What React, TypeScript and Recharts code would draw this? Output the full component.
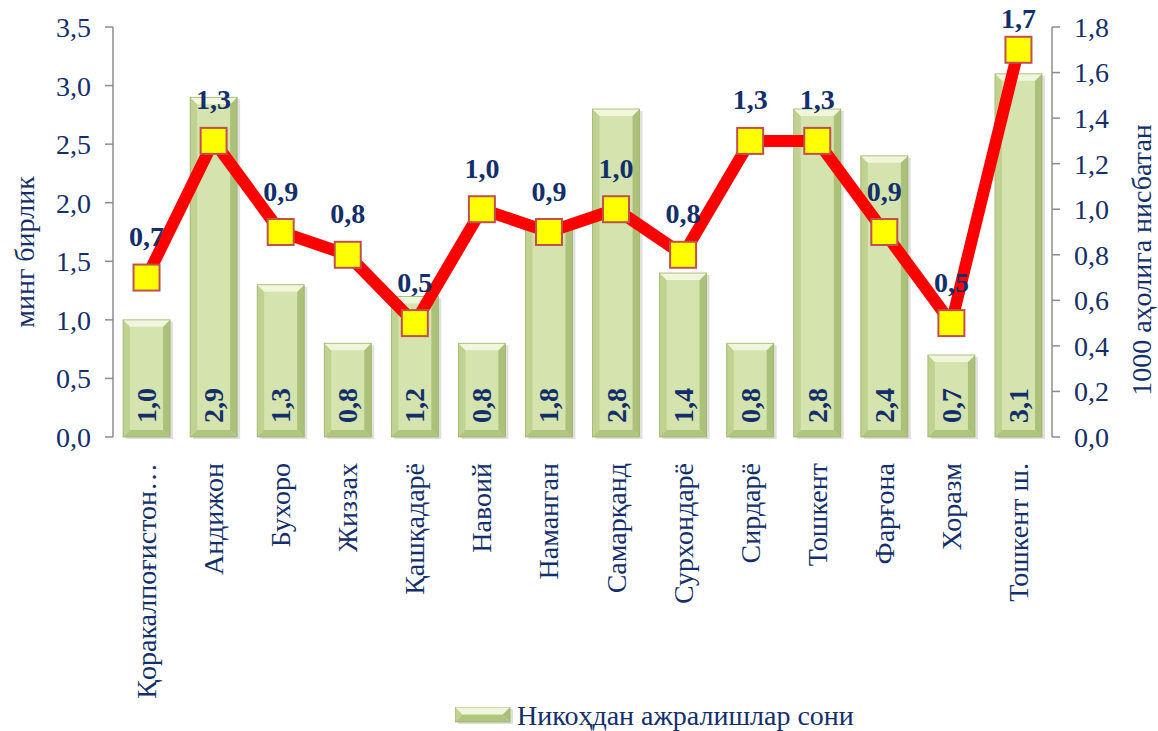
import React from 'react';
import { ComposedChart, Bar, Line, XAxis, YAxis, Legend, LabelList } from 'recharts';

const categories = [
  'Қоракалпоғистон…', 'Андижон', 'Бухоро', 'Жиззах', 'Қашқадарё', 'Навоий', 'Наманган',
  'Самарқанд', 'Сурхондарё', 'Сирдарё', 'Тошкент', 'Фарғона', 'Хоразм', 'Тошкент ш.',
];
const divorceCounts = [1.0, 2.9, 1.3, 0.8, 1.2, 0.8, 1.8, 2.8, 1.4, 0.8, 2.8, 2.4, 0.7, 3.1];
const perThousand = [0.7, 1.3, 0.9, 0.8, 0.5, 1.0, 0.9, 1.0, 0.8, 1.3, 1.3, 0.9, 0.5, 1.7];
const leftTicks = [0, 0.5, 1.0, 1.5, 2.0, 2.5, 3.0, 3.5];
const rightTicks = [0, 0.2, 0.4, 0.6, 0.8, 1.0, 1.2, 1.4, 1.6, 1.8];
const boundaryTicks = categories.map((_, i) => i).concat([categories.length]);

const seriesName = 'Никоҳдан ажралишлар сони';
const leftTitle = 'минг бирлик';
const rightTitle = '1000 аҳолига нисбатан';

const data = categories.map((name, i) => ({ name, count: divorceCounts[i], ratio: perThousand[i] }));

const FONT = '"Liberation Serif", "Times New Roman", serif';
const NAVY = '#132F6B';
const AXIS = '#8C8C8C';

const fmt = (v: number) => v.toFixed(1).replace('.', ',');

function Bevel({ x, y, width, height }: { x: number; y: number; width: number; height: number }) {
  if (!height || height <= 0) return null;
  const b = Math.min(7, height / 2, width / 2);
  return (
    <g>
      <rect x={x + 3} y={y + 2} width={width} height={height} fill="#000" opacity={0.12} />
      <rect x={x} y={y} width={width} height={height} fill="#D5E4AE" />
      <polygon points={`${x},${y} ${x + b},${y + b} ${x + b},${y + height - b} ${x},${y + height}`} fill="#BFD290" />
      <polygon points={`${x + width},${y} ${x + width - b},${y + b} ${x + width - b},${y + height - b} ${x + width},${y + height}`} fill="#ABC078" />
      <polygon points={`${x},${y} ${x + width},${y} ${x + width - b},${y + b} ${x + b},${y + b}`} fill="#EFF6DB" />
      <polygon points={`${x},${y + height} ${x + width},${y + height} ${x + width - b},${y + height - b} ${x + b},${y + height - b}`} fill="#B0C57E" />
      <rect x={x} y={y} width={width} height={height} fill="none" stroke="#9DB26A" strokeWidth={0.8} />
    </g>
  );
}

const BarShape = (props: any) => <Bevel x={props.x} y={props.y} width={props.width} height={props.height} />;

const BarValueLabel = (props: any) => {
  const { x, y, width, height, value } = props;
  const cx = x + width / 2;
  const by = y + height - 14;
  return (
    <text
      x={cx}
      y={by}
      transform={`rotate(-90 ${cx} ${by})`}
      textAnchor="start"
      dominantBaseline="central"
      fontFamily={FONT}
      fontWeight="bold"
      fontSize={28}
      fill={NAVY}
    >
      {fmt(value)}
    </text>
  );
};

const LineValueLabel = (props: any) => {
  const { x, y, value } = props;
  const ly = Math.max(y - 41, 18);
  return (
    <text x={x} y={ly} textAnchor="middle" dominantBaseline="central" fontFamily={FONT} fontWeight="bold" fontSize={28} fill={NAVY}>
      {fmt(value)}
    </text>
  );
};

const SquareDot = (props: any) => {
  const { cx, cy } = props;
  if (cx == null || cy == null) return null;
  const s = 26;
  return <rect x={cx - s / 2} y={cy - s / 2} width={s} height={s} fill="#FFFF00" stroke="#C0504D" strokeWidth={2} />;
};

const CategoryTick = (props: any) => {
  const { x, y, payload } = props;
  const ty = y + 18;
  return (
    <text
      x={x}
      y={ty}
      transform={`rotate(-90 ${x} ${ty})`}
      textAnchor="end"
      dominantBaseline="central"
      fontFamily={FONT}
      fontSize={28}
      fill={NAVY}
    >
      {payload.value}
    </text>
  );
};

const EmptyTick = () => <g />;

const LegendContent = () => (
  <div style={{ display: 'flex', alignItems: 'center', height: 30, paddingLeft: 455, fontFamily: FONT, fontSize: 28, color: NAVY }}>
    <svg width={58} height={18} style={{ marginRight: 4 }}>
      <Bevel x={0} y={0} width={55} height={15} />
    </svg>
    <span>{seriesName}</span>
  </div>
);

export default function App() {
  return (
    <div style={{ position: 'absolute', left: 0, top: 0, width: 1158, height: 731, background: '#fff' }}>
      <ComposedChart width={1158} height={731} data={data} margin={{ top: 27, right: 0, bottom: 0, left: 0 }} barCategoryGap="15%">
        <XAxis
          xAxisId="bounds"
          type="number"
          dataKey="count"
          domain={[0, categories.length]}
          ticks={boundaryTicks}
          allowDataOverflow
          height={0}
          tickSize={6}
          tick={EmptyTick}
          stroke={AXIS}
          axisLine={{ stroke: AXIS, strokeWidth: 1.5 }}
          tickLine={{ stroke: AXIS, strokeWidth: 1.5 }}
        />
        <XAxis
          dataKey="name"
          xAxisId={0}
          height={264}
          interval={0}
          axisLine={false}
          tickLine={false}
          tick={CategoryTick}
        />
        <YAxis
          yAxisId="left"
          orientation="left"
          width={113}
          domain={[0, 3.5]}
          ticks={leftTicks}
          interval={0}
          tickFormatter={fmt}
          tickSize={8}
          tickMargin={14}
          axisLine={{ stroke: AXIS, strokeWidth: 1.5 }}
          tickLine={{ stroke: AXIS, strokeWidth: 1.5 }}
          tick={{ fontFamily: FONT, fontSize: 28, fill: NAVY }}
          label={(p: any) => {
            const vb = p.viewBox;
            const lx = 24;
            const ly = vb.y + vb.height / 2 + 20;
            return (
              <text x={lx} y={ly} transform={`rotate(-90 ${lx} ${ly})`} textAnchor="middle" dominantBaseline="central" fontFamily={FONT} fontSize={28} fill={NAVY}>
                {leftTitle}
              </text>
            );
          }}
        />
        <YAxis
          yAxisId="right"
          orientation="right"
          width={106}
          domain={[0, 1.8]}
          ticks={rightTicks}
          interval={0}
          tickFormatter={fmt}
          tickSize={8}
          tickMargin={14}
          axisLine={{ stroke: AXIS, strokeWidth: 1.5 }}
          tickLine={{ stroke: AXIS, strokeWidth: 1.5 }}
          tick={{ fontFamily: FONT, fontSize: 28, fill: NAVY }}
          label={(p: any) => {
            const vb = p.viewBox;
            const lx = 1141;
            const ly = vb.y + vb.height / 2 + 28;
            return (
              <text x={lx} y={ly} transform={`rotate(-90 ${lx} ${ly})`} textAnchor="middle" dominantBaseline="central" fontFamily={FONT} fontSize={28} fill={NAVY}>
                {rightTitle}
              </text>
            );
          }}
        />
        <Legend verticalAlign="bottom" height={30} content={LegendContent} />
        <Bar
          dataKey="count"
          name={seriesName}
          yAxisId="left"
          xAxisId={0}
          shape={BarShape}
          isAnimationActive={false}
        >
          <LabelList dataKey="count" content={BarValueLabel} />
        </Bar>
        <Line
          dataKey="ratio"
          yAxisId="right"
          xAxisId={0}
          stroke="#FF0000"
          strokeWidth={12}
          strokeLinejoin="miter"
          dot={SquareDot}
          activeDot={false}
          legendType="none"
          isAnimationActive={false}
        >
          <LabelList dataKey="ratio" content={LineValueLabel} />
        </Line>
      </ComposedChart>
    </div>
  );
}
